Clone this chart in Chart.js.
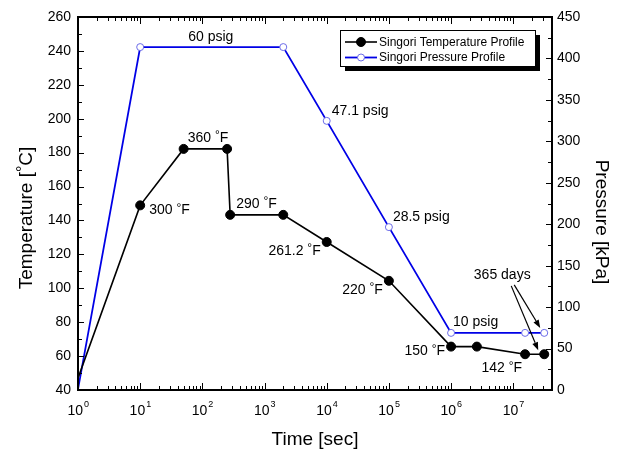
<!DOCTYPE html>
<html>
<head>
<meta charset="utf-8">
<script src="https://cdn.jsdelivr.net/npm/chart.js@4.4.0/dist/chart.umd.min.js"></script>
<style>
  html, body { margin: 0; padding: 0; background: #fff; }
</style>
</head>
<body>
<canvas id="profileChart" width="617" height="452"></canvas>
<script>
// data (time in s, temperature in degC, pressure in kPa)
const tempTimes = [1, 10, 50, 250, 280, 2000, 1e4, 1e5, 1e6, 2.6e6, 1.55e7, 3.15e7];
const tempValues = [47, 148.9, 182.2, 182.2, 143.3, 143.3, 127.3, 104.4, 65.6, 65.6, 61.1, 61.1];
const pressTimes = [1, 10, 2000, 1e4, 1e5, 1e6, 1.55e7, 3.15e7];
const pressValues = [1, 413.7, 413.7, 324.7, 196.5, 68.9, 68.9, 68.9];

const tempTicks = [40, 60, 80, 100, 120, 140, 160, 180, 200, 220, 240, 260];
const pressTicks = [0, 50, 100, 150, 200, 250, 300, 350, 400, 450];
const timeDecades = [0, 1, 2, 3, 4, 5, 6, 7];

// labels next to points: dataset, point index, text
const notes = [
    { ds: 0, i: 1, text: '300 °F', dx: 9, dy: 5, align: 'left' },
    { ds: 0, i: 2, text: '360 °F', dx: 4, dy: -11, align: 'left' },
    { ds: 0, i: 4, text: '290 °F', dx: 6, dy: -11, align: 'left' },
    { ds: 0, i: 6, text: '261.2 °F', dx: -6, dy: 9, align: 'right' },
    { ds: 0, i: 7, text: '220 °F', dx: -6, dy: 9, align: 'right' },
    { ds: 0, i: 8, text: '150 °F', dx: -6, dy: 5, align: 'right' },
    { ds: 0, i: 10, text: '142 °F', dx: -3, dy: 14, align: 'right' },
    { ds: 1, i: 1, text: '60 psig', dx: 48, dy: -10, align: 'left' },
    { ds: 1, i: 3, text: '47.1 psig', dx: 5, dy: -10, align: 'left' },
    { ds: 1, i: 4, text: '28.5 psig', dx: 4, dy: -10, align: 'left' },
    { ds: 1, i: 5, text: '10 psig', dx: 2, dy: -11, align: 'left' }
];

const FONT = "'Liberation Sans', Arial, sans-serif";

function pointPos(chart, ds, i) {
    const el = chart.getDatasetMeta(ds).data[i];
    return { x: el.x, y: el.y };
}

function arrow(ctx, x0, y0, x1, y1) {
    const a = Math.atan2(y1 - y0, x1 - x0);
    const len = 8, w = 3;
    ctx.beginPath();
    ctx.moveTo(x0, y0);
    ctx.lineTo(x1 - len * Math.cos(a), y1 - len * Math.sin(a));
    ctx.stroke();
    ctx.beginPath();
    ctx.moveTo(x1, y1);
    ctx.lineTo(x1 - len * Math.cos(a) + w * Math.sin(a), y1 - len * Math.sin(a) - w * Math.cos(a));
    ctx.lineTo(x1 - len * Math.cos(a) - w * Math.sin(a), y1 - len * Math.sin(a) + w * Math.cos(a));
    ctx.closePath();
    ctx.fill();
}

// text with a small raised degree sign, as in the original
function degText(ctx, text, x, y, align, size, degSize, lift) {
    const parts = text.split('°');
    ctx.font = size + 'px ' + FONT;
    if (parts.length < 2) { ctx.textAlign = align; ctx.fillText(text, x, y); return; }
    const w1 = ctx.measureText(parts[0]).width;
    const w3 = ctx.measureText(parts[1]).width;
    ctx.font = degSize + 'px ' + FONT;
    const w2 = ctx.measureText('°').width;
    const total = w1 + w2 + w3;
    const x0 = align === 'right' ? x - total : (align === 'center' ? x - total / 2 : x);
    ctx.textAlign = 'left';
    ctx.font = size + 'px ' + FONT;
    ctx.fillText(parts[0], x0, y);
    ctx.font = degSize + 'px ' + FONT;
    ctx.fillText('°', x0 + w1, y - lift);
    ctx.font = size + 'px ' + FONT;
    ctx.fillText(parts[1], x0 + w1 + w2, y);
}

const framePlugin = {
    id: 'originFrame',
    afterDraw(chart) {
        const ctx = chart.ctx;
        const a = chart.chartArea;
        const xs = chart.scales.x, ys = chart.scales.y, ys2 = chart.scales.y2;
        ctx.save();
        ctx.strokeStyle = '#000';
        ctx.fillStyle = '#000';

        // ticks (inward, all four sides)
        ctx.lineWidth = 1;
        ctx.beginPath();
        for (let v = ys.min; v <= ys.max; v += 10) {
            const py = Math.round(ys.getPixelForValue(v)) + 0.5;
            const len = (v % 20 === 0) ? 6 : 4;
            ctx.moveTo(a.left, py); ctx.lineTo(a.left + len, py);
        }
        for (let v = ys2.min; v <= ys2.max; v += 25) {
            const py = Math.round(ys2.getPixelForValue(v)) + 0.5;
            const len = (v % 50 === 0) ? 6 : 4;
            ctx.moveTo(a.right, py); ctx.lineTo(a.right - len, py);
        }
        timeDecades.forEach(d => {
            for (let m = 1; m <= 9; m++) {
                const v = m * Math.pow(10, d);
                if (v > xs.max) break;
                const px = Math.round(xs.getPixelForValue(v)) + 0.5;
                const len = m === 1 ? 7 : 4;
                ctx.moveTo(px, a.bottom); ctx.lineTo(px, a.bottom - len);
                ctx.moveTo(px, a.top); ctx.lineTo(px, a.top + len);
            }
        });
        ctx.stroke();

        // frame
        ctx.lineWidth = 2;
        ctx.strokeRect(a.left, a.top, a.right - a.left, a.bottom - a.top);

        // tick labels
        ctx.font = '14px ' + FONT;
        ctx.textBaseline = 'middle';
        ctx.textAlign = 'right';
        tempTicks.forEach(v => ctx.fillText(String(v), a.left - 7, ys.getPixelForValue(v)));
        ctx.textAlign = 'left';
        pressTicks.forEach(v => ctx.fillText(String(v), a.right + 5, ys2.getPixelForValue(v)));
        timeDecades.forEach(d => {
            const px = xs.getPixelForValue(Math.pow(10, d));
            ctx.font = '14px ' + FONT;
            ctx.textAlign = 'right';
            ctx.fillText('10', px + 5, a.bottom + 21);
            ctx.font = '9px ' + FONT;
            ctx.textAlign = 'left';
            ctx.fillText(String(d), px + 6, a.bottom + 15);
        });

        // axis titles
        ctx.font = '19px ' + FONT;
        ctx.textAlign = 'center';
        ctx.fillText('Time [sec]', (a.left + a.right) / 2, a.bottom + 50);
        ctx.save();
        ctx.translate(27, 218);
        ctx.rotate(-Math.PI / 2);
        degText(ctx, 'Temperature [°C]', 0, 0, 'center', 19, 16, 3);
        ctx.restore();
        ctx.save();
        ctx.translate(601, 222);
        ctx.rotate(Math.PI / 2);
        ctx.font = '19px ' + FONT;
        ctx.textAlign = 'center';
        ctx.fillText('Pressure [kPa]', 0, 0);
        ctx.restore();

        // point notes
        ctx.textBaseline = 'middle';
        notes.forEach(n => {
            const p = pointPos(chart, n.ds, n.i);
            degText(ctx, n.text, p.x + n.dx, p.y + n.dy, n.align, 14, 12, 2);
        });

        // 365 days with arrows to the last points
        const lastP = pointPos(chart, 1, pressTimes.length - 1);
        const lastT = pointPos(chart, 0, tempTimes.length - 1);
        const tx = lastP.x - 42, ty = lastP.y - 58;
        ctx.font = '14px ' + FONT;
        ctx.textAlign = 'center';
        ctx.fillText('365 days', tx, ty);
        ctx.lineWidth = 1.2;
        arrow(ctx, tx + 12, ty + 10, lastP.x - 4, lastP.y - 5);
        arrow(ctx, tx + 9, ty + 11, lastT.x - 6, lastT.y - 4);

        // legend with shadow
        const lx = 340, ly = 30, lw = 195, lh = 36;
        ctx.fillRect(lx + 5, ly + 5, lw, lh);
        ctx.fillStyle = '#fff';
        ctx.fillRect(lx, ly, lw, lh);
        ctx.lineWidth = 1;
        ctx.strokeStyle = '#000';
        ctx.strokeRect(lx + 0.5, ly + 0.5, lw, lh);
        ctx.font = '12px ' + FONT;
        ctx.textAlign = 'left';
        chart.data.datasets.forEach((ds, k) => {
            const yy = ly + 12 + k * 15.5;
            const r = ds.pointRadius[ds.pointRadius.length - 1];
            ctx.strokeStyle = ds.borderColor;
            ctx.lineWidth = ds.borderWidth;
            ctx.beginPath();
            ctx.moveTo(lx + 5, yy); ctx.lineTo(lx + 37, yy);
            ctx.stroke();
            ctx.beginPath();
            ctx.arc(lx + 21, yy, r, 0, Math.PI * 2);
            ctx.fillStyle = ds.pointBackgroundColor;
            ctx.fill();
            ctx.lineWidth = ds.pointBorderWidth;
            ctx.strokeStyle = ds.pointBorderColor;
            ctx.stroke();
            ctx.fillStyle = '#000';
            ctx.fillText(ds.label, lx + 39, yy + 0.5);
        });
        ctx.restore();
    }
};

new Chart(document.getElementById('profileChart'), {
    type: 'line',
    data: {
        datasets: [{
            label: 'Singori Temperature Profile',
            data: tempTimes.map((t, i) => ({ x: t, y: tempValues[i] })),
            yAxisID: 'y',
            borderColor: '#000',
            borderWidth: 1.6,
            pointRadius: tempTimes.map((t, i) => i === 0 ? 0 : 4.5),
            pointBackgroundColor: '#000',
            pointBorderColor: '#000',
            pointBorderWidth: 1,
            tension: 0,
            clip: 0
        }, {
            label: 'Singori Pressure Profile',
            data: pressTimes.map((t, i) => ({ x: t, y: pressValues[i] })),
            yAxisID: 'y2',
            borderColor: '#0000e6',
            borderWidth: 1.8,
            pointRadius: pressTimes.map((t, i) => i === 0 ? 0 : 3.5),
            pointBackgroundColor: '#fff',
            pointBorderColor: '#6b6be8',
            pointBorderWidth: 1,
            tension: 0,
            clip: 0
        }]
    },
    options: {
        responsive: false,
        animation: false,
        devicePixelRatio: 1,
        layout: {
            padding: { left: 78, right: 65, top: 17, bottom: 62 }
        },
        plugins: {
            legend: { display: false },
            tooltip: { enabled: false }
        },
        scales: {
            x: { type: 'logarithmic', min: 1, max: 4.2e7, display: false },
            y: { type: 'linear', position: 'left', min: 40, max: 260, display: false },
            y2: { type: 'linear', position: 'right', min: 0, max: 450, display: false }
        }
    },
    plugins: [framePlugin]
});
</script>
</body>
</html>
